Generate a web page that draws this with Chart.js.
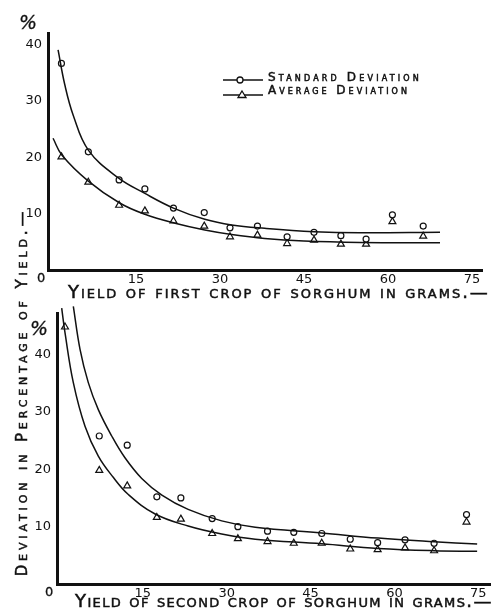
<!DOCTYPE html>
<html>
<head>
<meta charset="utf-8">
<script src="https://cdn.jsdelivr.net/npm/chart.js@4.4.1/dist/chart.umd.min.js"></script>
<style>
  html, body { margin: 0; padding: 0; background: #fff; }
  #wrap { position: relative; width: 501px; height: 610px; background: #fff; overflow: hidden; }
  canvas { position: absolute; left: 0; }
  .txt { position: absolute; white-space: nowrap; color: #111; font-family: "DejaVu Sans", sans-serif;
         font-variant: small-caps; display: inline-block; -webkit-text-stroke: 0.5px #111; }
  .num { position: absolute; color: #111; font-family: "DejaVu Sans", sans-serif; font-size: 13px; line-height: 14px;
         -webkit-text-stroke: 0.3px #111; }
</style>
</head>
<body>
<div id="wrap">
  <canvas id="top" width="501" height="300" style="top:0"></canvas>
  <canvas id="bottom" width="501" height="310" style="top:300px"></canvas>

  <!-- legend -->
  <svg style="position:absolute;left:222px;top:70px" width="45" height="32">
    <line x1="1" y1="10" x2="41" y2="10" stroke="#111" stroke-width="1.4"/>
    <circle cx="18" cy="10" r="3" fill="#fff" stroke="#111" stroke-width="1.3"/>
    <line x1="1" y1="25" x2="41" y2="25" stroke="#111" stroke-width="1.4"/>
    <polygon points="20,21 24,27.5 16,27.5" fill="#fff" stroke="#111" stroke-width="1.3"/>
  </svg>
  <div class="txt" id="leg1" style="left:268px;top:71px;font-size:12px;line-height:13px">Standard Deviation</div>
  <div class="txt" id="leg2" style="left:268px;top:84px;font-size:12px;line-height:13px">Average Deviation</div>

  <!-- axis titles -->
  <div class="txt" id="xt1" style="left:68px;top:281px;font-size:18px;line-height:21px">Yield of first crop of sorghum in grams.—</div>
  <div class="txt" id="xt2" style="left:75px;top:590px;font-size:18px;line-height:21px">Yield of second crop of sorghum in grams.—</div>
  <div class="txt" id="yt" style="font-size:15px;line-height:18px;transform-origin:50% 50%">Deviation in Percentage of Yield.—</div>

  <div class="num" style="left:37px;top:271px">0</div>
  <div class="num" style="left:45px;top:585px">0</div>
  <div class="num" style="left:19px;top:12px;font-size:19px;line-height:20px;font-style:italic">%</div>
  <div class="num" style="left:30px;top:318px;font-size:19px;line-height:20px;font-style:italic">%</div>
</div>

<script>
// ---- first crop (top chart) ----
const topX     = [1.7, 6.5, 12.0, 16.6, 21.7, 27.2, 31.8, 36.7, 42.0, 46.8, 51.6, 56.1, 60.8, 66.3];
const topSD    = [36.7, 21.0, 16.0, 14.4, 11.0, 10.2, 7.5, 7.8, 5.9, 6.7, 6.1, 5.5, 9.8, 7.8];
const topAvg   = [20.1, 15.6, 11.5, 10.5, 8.7, 7.8, 5.9, 6.2, 4.7, 5.3, 4.6, 4.6, 8.6, 6.0];
// fitted curves
const topSdCurveX  = [1.1, 2.3, 3.8, 6.5, 11.8, 16.6, 21.7, 27.3, 32.1, 38.0, 46.8, 55.0, 69.3];
const topSdCurveY  = [39.1, 32.9, 27.5, 21.3, 16.4, 13.6, 11.0, 9.0, 8.0, 7.4, 6.8, 6.6, 6.7];
const topAvgCurveX = [0.2, 1.8, 6.5, 12.1, 16.6, 22.0, 27.3, 32.1, 38.0, 45.0, 55.0, 69.3];
const topAvgCurveY = [23.4, 20.4, 15.8, 11.9, 9.9, 8.3, 7.1, 6.3, 5.6, 5.15, 4.9, 4.85];

// ---- second crop (bottom chart) ----
const botX     = [1.07, 7.2, 12.2, 17.5, 21.8, 27.4, 32.0, 37.3, 42.0, 47.0, 52.1, 57.0, 61.9, 67.1, 72.9];
const botSD    = [null, 25.8, 24.2, 15.2, 15.0, 11.4, 10.0, 9.2, 9.0, 8.8, 7.8, 7.2, 7.7, 7.1, 12.1];
const botAvg   = [44.8, 19.8, 17.1, 11.6, 11.3, 8.8, 7.9, 7.4, 7.1, 7.1, 6.1, 6.0, 6.3, 5.8, 10.8];
const botSdCurveX  = [2.56, 3.76, 5.24, 7.03, 9.43, 11.8, 14.8, 18.4, 23.1, 29.1, 35.1, 47.0, 57.1, 67.1, 74.8];
const botSdCurveY  = [48.4, 40.9, 35.1, 30.4, 25.8, 22.0, 18.4, 15.5, 13.0, 11.0, 9.9, 8.9, 8.0, 7.36, 6.96];
const botAvgCurveX = [0.48, 1.07, 2.56, 4.65, 7.03, 9.7, 12.4, 17.2, 23.1, 29.1, 35.1, 47.0, 57.1, 67.1, 74.8];
const botAvgCurveY = [48.1, 43.8, 35.1, 27.5, 22.3, 18.6, 15.6, 12.2, 10.1, 8.7, 7.8, 7.0, 6.2, 5.8, 5.7];

const xTicks = [15, 30, 45, 60, 75];
const yTicks = [10, 20, 30, 40];

const ink = '#111';

function pts(xs, ys) {
  return xs.map((x, i) => ({ x: x, y: ys[i] })).filter(p => p.y !== null);
}

function makeChart(id, o) {
  const datasets = [
    { data: pts(o.curveSdX, o.curveSdY), showLine: true, pointRadius: 0, borderColor: ink,
      borderWidth: 1.5, tension: 0.4, clip: false },
    { data: pts(o.curveAvgX, o.curveAvgY), showLine: true, pointRadius: 0, borderColor: ink,
      borderWidth: 1.5, tension: 0.4, clip: false },
    { data: pts(o.x, o.sd), showLine: false, pointStyle: 'circle', pointRadius: 3,
      pointBorderWidth: 1.2, borderColor: ink, backgroundColor: '#fff', clip: false },
    { data: pts(o.x, o.avg), showLine: false, pointStyle: 'triangle', pointRadius: 4,
      pointBorderWidth: 1.2, borderColor: ink, backgroundColor: '#fff', clip: false }
  ];
  return new Chart(document.getElementById(id), {
    type: 'scatter',
    data: { datasets: datasets },
    options: {
      responsive: false,
      animation: false,
      layout: { padding: o.pad },
      plugins: { legend: { display: false }, tooltip: { enabled: false } },
      scales: {
        x: {
          type: 'linear', min: o.xMin, max: o.xMax,
          grid: { display: false, drawTicks: false },
          border: { display: true, color: ink, width: 3 },
          ticks: { color: ink, font: { family: 'DejaVu Sans', size: 13 }, padding: 2, maxRotation: 0, autoSkip: false },
          afterBuildTicks: s => { s.ticks = xTicks.map(v => ({ value: v })); },
          afterFit: s => { s.height = o.xH; }
        },
        y: {
          type: 'linear', min: 0, max: o.yMax,
          grid: { display: false, drawTicks: false },
          border: { display: true, color: ink, width: 3 },
          ticks: { color: ink, font: { family: 'DejaVu Sans', size: 13 }, padding: 6 },
          afterBuildTicks: s => { s.ticks = yTicks.map(v => ({ value: v })); },
          afterFit: s => { s.width = o.yW; }
        }
      }
    }
  });
}

makeChart('top', {
  x: topX, sd: topSD, avg: topAvg,
  curveSdX: topSdCurveX, curveSdY: topSdCurveY, curveAvgX: topAvgCurveX, curveAvgY: topAvgCurveY,
  xMin: -0.7, xMax: 76.8, yMax: 42.1,
  pad: { left: 0, top: 33, right: 19, bottom: 0 }, yW: 48, xH: 30
});

makeChart('bottom', {
  x: botX, sd: botSD, avg: botAvg,
  curveSdX: botSdCurveX, curveSdY: botSdCurveY, curveAvgX: botAvgCurveX, curveAvgY: botAvgCurveY,
  xMin: -0.36, xMax: 77.1, yMax: 47.1,
  pad: { left: 0, top: 13, right: 11, bottom: 0 }, yW: 57, xH: 26
});

// stretch lettering to the widths used in the drawing
function fit(id, w) {
  const el = document.getElementById(id);
  el.style.letterSpacing = '0px';
  const n = el.textContent.length;
  const w0 = el.offsetWidth;
  el.style.letterSpacing = ((w - w0) / n) + 'px';
  return el;
}
fit('leg1', 154);
fit('leg2', 142);
fit('xt1', 422);
fit('xt2', 418);
const yt = fit('yt', 369);
yt.style.left = (22 - yt.offsetWidth / 2) + 'px';
yt.style.top = (392 - 9) + 'px';
yt.style.transform = 'rotate(-90deg)';
</script>
</body>
</html>
